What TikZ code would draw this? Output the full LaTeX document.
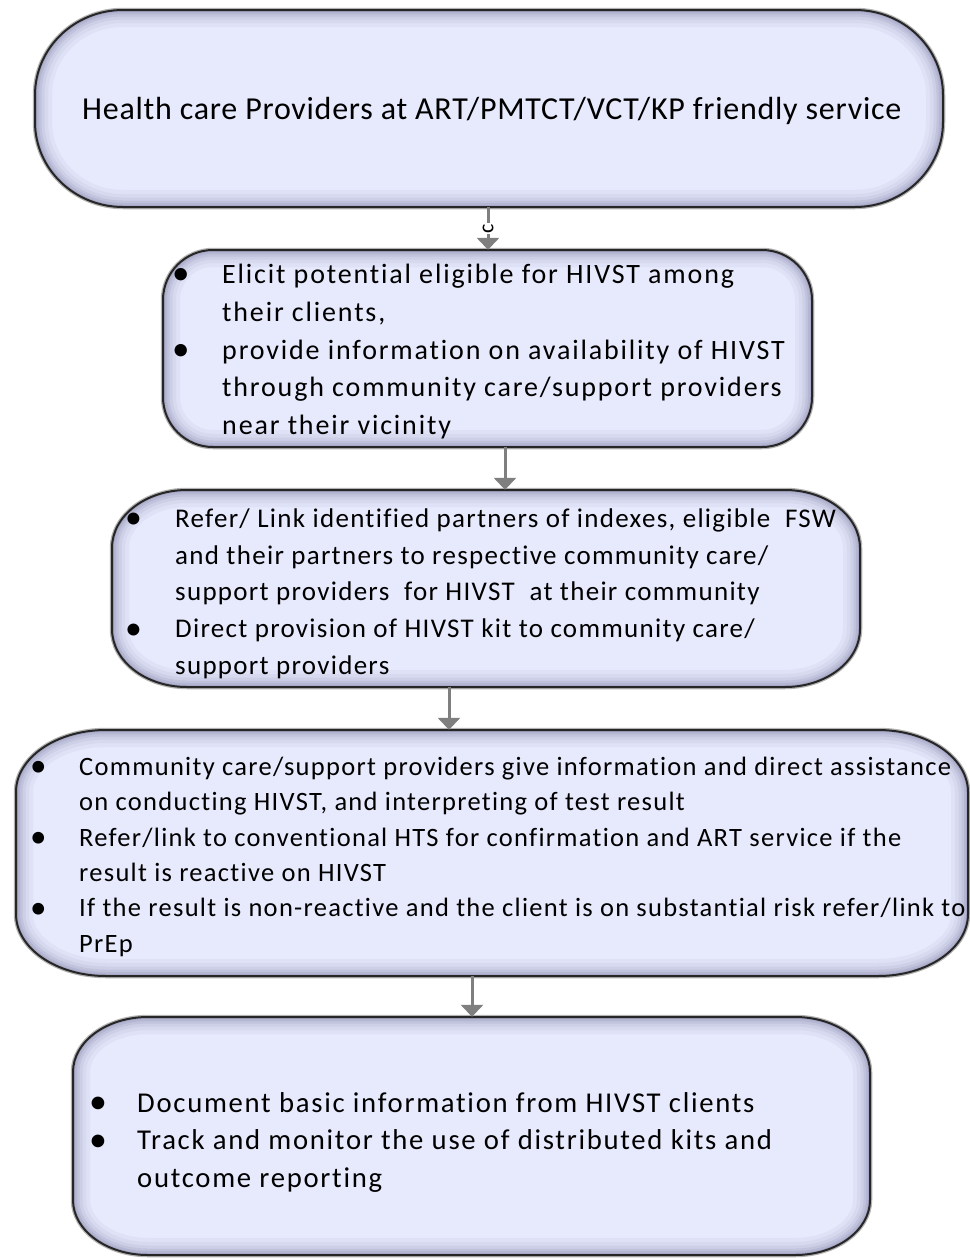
\documentclass[tikz,border=0pt]{standalone}
\usepackage{fontspec}
\setmainfont{Carlito}[Ligatures={NoCommon}]
\usetikzlibrary{arrows.meta}

\definecolor{boxfill}{HTML}{E7E9FC}
\definecolor{boxshade}{HTML}{5C5C8A}
\definecolor{boxline}{HTML}{262626}
\definecolor{arrowgray}{HTML}{7F7F7F}

% rounded rectangle with elliptical corners: x1,y1,x2,y2,rx,ry (y grows downwards)
\newcommand\roundbox[6]{%
  (#1+#5,#2) -- (#3-#5,#2)
  arc[start angle=-90,end angle=0,x radius=#5,y radius=#6]
  -- (#3,#4-#6)
  arc[start angle=0,end angle=90,x radius=#5,y radius=#6]
  -- (#1+#5,#4)
  arc[start angle=90,end angle=180,x radius=#5,y radius=#6]
  -- (#1,#2+#6)
  arc[start angle=180,end angle=270,x radius=#5,y radius=#6]
  -- cycle}

% shaded flow box with a named node covering it: name,x1,y1,x2,y2,rx,ry
\newcommand\flowbox[7]{%
  \draw[black!30, line width=4.5pt] \roundbox{#2}{#3}{#4}{#5}{#6}{#7};
  \begin{scope}
    \clip \roundbox{#2}{#3}{#4}{#5}{#6}{#7};
    \fill[boxfill] \roundbox{#2}{#3}{#4}{#5}{#6}{#7};
    \foreach \w/\o in {34/0.05,26/0.06,19/0.08,13/0.1,8/0.12,4/0.15}
      \draw[boxshade, line width=\w pt, opacity=\o] \roundbox{#2}{#3}{#4}{#5}{#6}{#7};
  \end{scope}
  \draw[boxline, line width=2pt] \roundbox{#2}{#3}{#4}{#5}{#6}{#7};
  \node[inner sep=0pt, minimum width={#4-#2}, minimum height={#5-#3}] (#1)
    at ({(#2+#4)/2},{(#3+#5)/2}) {};
}

\newcommand\bul[1]{\makebox[#1][l]{\raisebox{-0.06em}{\scalebox{1.25}{\textbullet}}}}
\newcommand\ind[1]{\hspace*{#1}}
% font size, line distance, letter spacing
\newcommand\boxfont[3]{\fontsize{#1}{#2}\selectfont\addfontfeatures{LetterSpace=#3}}

\tikzset{
  textblock/.style={inner sep=0pt, anchor=north west, align=left, text=black},
  flowarrow/.style={draw=arrowgray, line width=3pt,
    -{Triangle[width=22pt,length=12pt]}},
}

\begin{document}
\begin{tikzpicture}[x=1pt,y=-1pt]
\useasboundingbox (0,0) rectangle (969,1258);

\flowbox{b1}{35}{10}{943}{207}{88}{85}
\flowbox{b2}{163}{250}{812}{447}{50}{50}
\flowbox{b3}{112}{490}{860}{687}{75}{58}
\flowbox{b4}{16}{730}{968}{976}{90}{62}
\flowbox{b5}{73}{1017}{870}{1255}{75}{55}

\node[inner sep=0pt, anchor=base west, font=\boxfont{32}{38}{2.3}] (t1) at (82,119)
  {Health care Providers at ART/PMTCT/VCT/KP friendly service};

\node[textblock, font=\boxfont{28}{37.9}{6.6}] (t2) at (172,{283-0.7*37.9})
  {\strut\bul{50pt}Elicit potential eligible for HIVST among\\
   \ind{50pt}their clients,\\
   \bul{50pt}provide information on availability of HIVST\\
   \ind{50pt}through community care/support providers\\
   \ind{50pt}near their vicinity};

\node[textblock, font=\boxfont{27}{36.8}{4.8}] (t3) at (125,{527-0.7*36.8})
  {\strut\bul{50pt}Refer/ Link identified partners of indexes, eligible\ \ FSW\\
   \ind{50pt}and their partners to respective community care/\\
   \ind{50pt}support providers\ \ for HIVST\ \ at their community\\
   \bul{50pt}Direct provision of HIVST kit to community care/\\
   \ind{50pt}support providers};

\node[textblock, font=\boxfont{26.5}{35.4}{4.9}] (t4) at (30,{775-0.7*35.4})
  {\strut\bul{49pt}Community care/support providers give information and direct assistance\\
   \ind{49pt}on conducting HIVST, and interpreting of test result\\
   \bul{49pt}Refer/link to conventional HTS for confirmation and ART service if the\\
   \ind{49pt}result is reactive on HIVST\\
   \bul{49pt}If the result is non-reactive and the client is on substantial risk refer/link to\\
   \ind{49pt}PrEp};

\node[textblock, font=\boxfont{28.7}{37.7}{6.0}] (t5) at (89,{1112-0.7*37.7})
  {\strut\bul{48pt}Document basic information from HIVST clients\\
   \bul{48pt}Track and monitor the use of distributed kits and\\
   \ind{48pt}outcome reporting};

\draw[flowarrow] ([xshift=-1pt]b1.south) -- node[pos=0.5, rotate=90, inner sep=0.4pt,
  fill=white, font=\fontsize{22}{22}\selectfont] (clabel) {c} ([xshift=0.5pt]b2.north);
\draw[flowarrow] ([xshift=17.5pt]b2.south) -- ([xshift=19pt]b3.north);
\draw[flowarrow] ([xshift=-37pt]b3.south) -- ([xshift=-43pt]b4.north);
\draw[flowarrow] ([xshift=-20pt]b4.south) -- ([xshift=0.5pt]b5.north);
\end{tikzpicture}
\end{document}
